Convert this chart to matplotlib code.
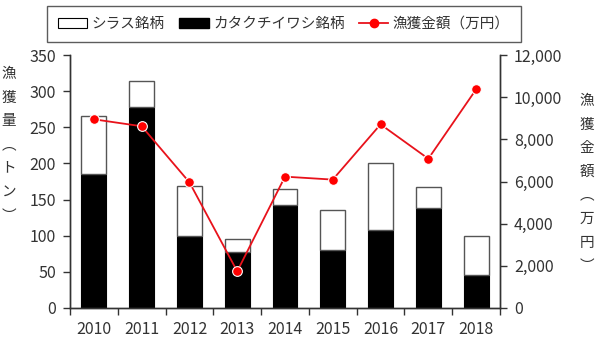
import matplotlib
matplotlib.use("Agg")
import matplotlib.pyplot as plt
import numpy as np
from matplotlib.ticker import FuncFormatter, FixedLocator
from matplotlib.patches import Patch
from matplotlib.lines import Line2D

plt.rcParams['font.family'] = ['Noto Sans CJK JP', 'DejaVu Sans']

years = ["2010", "2011", "2012", "2013", "2014", "2015", "2016", "2017", "2018"]
total_catch = [265, 314, 169, 95, 165, 135, 200, 168, 100]
katakuchi = [185, 278, 99, 78, 142, 80, 108, 139, 46]
shirasu = [t - k for t, k in zip(total_catch, katakuchi)]
value = [8950, 8620, 5960, 1740, 6230, 6090, 8710, 7080, 10370]

left_label = ["漁", "獲", "量", "︵", "ト", "ン", "︶"]
right_label = ["漁", "獲", "金", "額", "︵", "万", "円", "︶"]

fig = plt.figure(figsize=(6, 3.5), dpi=100)
ax = fig.add_axes([70/600, 42/350, 430/600, 253/350])
ax2 = ax.twinx()

x = np.arange(len(years))
w = 0.52
ax.bar(x, katakuchi, width=w, color='black', edgecolor='black', linewidth=0.8, zorder=2)
ax.bar(x, shirasu, width=w, bottom=katakuchi, color='white', edgecolor='#555555', linewidth=1.0, zorder=2)
ax2.plot(x, value, color='#E8121B', linewidth=1.3, marker='o', markersize=7,
         markerfacecolor='#FF0000', markeredgecolor='white', markeredgewidth=0.8, zorder=3)

ax.set_xlim(-0.5, len(years) - 0.5)
ax.set_ylim(0, 350)
ax.set_yticks(np.arange(0, 351, 50))
ax2.set_ylim(0, 12000)
ax2.set_yticks(np.arange(0, 12001, 2000))
ax2.yaxis.set_major_formatter(FuncFormatter(lambda v, p: f"{int(v):,}"))

ax.xaxis.set_major_locator(FixedLocator(np.arange(-0.5, len(years), 1.0)))
ax.xaxis.set_major_formatter(FuncFormatter(lambda v, p: ""))
ax.xaxis.set_minor_locator(FixedLocator(x))
ax.set_xticklabels(years, minor=True)
ax.tick_params(axis='x', which='minor', length=0, labelsize=11.5, colors='#333333', pad=9)
ax.tick_params(axis='x', which='major', length=5, width=1.0, color='#333333')
ax.tick_params(axis='y', length=5, width=1.0, color='#333333', labelsize=11.5, labelcolor='#333333', pad=5)
ax2.tick_params(axis='y', length=5, width=1.0, color='#333333', labelsize=11.5, labelcolor='#333333', pad=5)

for a in (ax, ax2):
    a.spines['top'].set_visible(False)
    for s in ('left', 'right', 'bottom'):
        a.spines[s].set_color('#333333')
        a.spines[s].set_linewidth(1.0)

for i, ch in enumerate(left_label):
    fig.text(9/600, 1 - (74 + i*23.6)/350, ch, ha='center', va='center', fontsize=10.5, color='#333333')
for i, ch in enumerate(right_label):
    fig.text(587/600, 1 - (101 + i*23.6)/350, ch, ha='center', va='center', fontsize=10.5, color='#333333')

handles = [Patch(facecolor='white', edgecolor='black', linewidth=0.8),
           Patch(facecolor='black', edgecolor='black'),
           Line2D([0], [0], color='#E8121B', linewidth=1.3, marker='o', markersize=6,
                  markerfacecolor='#FF0000', markeredgecolor='#FF0000')]
labels = ["シラス銘柄", "カタクチイワシ銘柄", "漁獲金額（万円）"]
leg = fig.legend(handles, labels, loc='center', bbox_to_anchor=(284/600, 1 - 24/350), ncol=3,
                 frameon=True, fancybox=False, edgecolor='#333333', fontsize=10.5,
                 handlelength=2.0, handleheight=0.7, handletextpad=0.3, columnspacing=1.0,
                 borderpad=0.75)
leg.get_frame().set_linewidth(1.0)
for t in leg.get_texts():
    t.set_color('#333333')

fig.savefig("out.png", dpi=100)
